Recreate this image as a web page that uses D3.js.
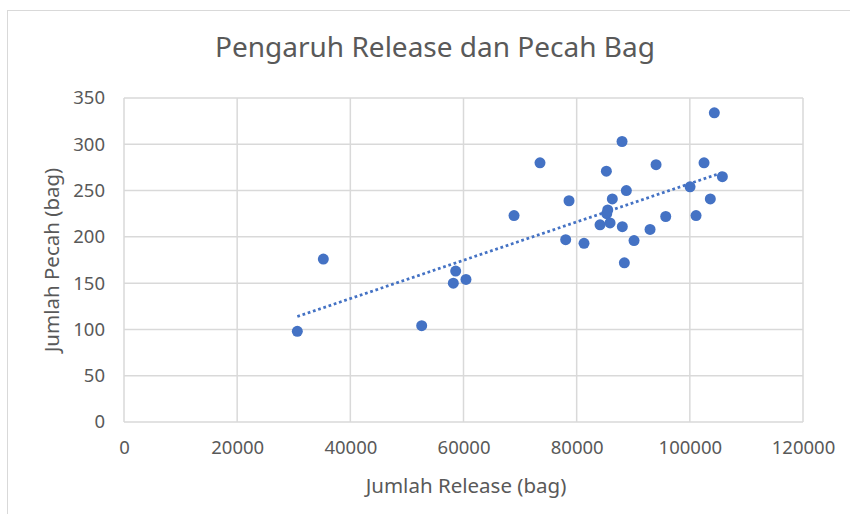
<!DOCTYPE html>
<html><head><meta charset="utf-8">
<script src="https://cdn.jsdelivr.net/npm/d3@7"></script>
<style>
html,body{margin:0;padding:0;background:#fff;}
svg{display:block;font-family:"Noto Sans","Open Sans",sans-serif;}
</style></head>
<body>
<svg id="chart" width="850" height="514"></svg>
<script>
// Data
const releaseBag = [30630, 35230, 52610, 58200, 58620, 60440, 68930, 73520, 78060, 78650,
  81300, 84130, 85310, 85490, 85900, 85250, 86300, 88020, 88070, 88430,
  88780, 90140, 92970, 94030, 95740, 100040, 101100, 102510, 103620, 104330, 105750];
const pecahBag = [98, 176, 104, 150, 163, 154, 223, 280, 197, 239,
  193, 213, 225, 229, 215, 271, 241, 303, 211, 172,
  250, 196, 208, 278, 222, 254, 223, 280, 241, 334, 265];
const xTicks = [0, 20000, 40000, 60000, 80000, 100000, 120000];
const yTicks = [0, 50, 100, 150, 200, 250, 300, 350];
const titleText = "Pengaruh Release dan Pecah Bag";
const xTitle = "Jumlah Release (bag)";
const yTitle = "Jumlah Pecah (bag)";

(function () {
const points = releaseBag.map((r, i) => ({x: r, y: pecahBag[i]}));

const svg = d3.select("#chart");
const pL = 124, pR = 803, pT = 98, pB = 422;
const x = d3.scaleLinear().domain([0, 120000]).range([pL, pR]);
const y = d3.scaleLinear().domain([0, 350]).range([pB, pT]);

const textCol = "#595959", gridCol = "#D9D9D9", blue = "#4472C4";

// chart outer border
svg.append("rect").attr("x", 7.5).attr("y", 10.5).attr("width", 900).attr("height", 600)
  .attr("fill", "none").attr("stroke", gridCol).attr("stroke-width", 1);

// title
svg.append("text").attr("x", 435).attr("y", 57).attr("text-anchor", "middle")
  .attr("font-size", 28).attr("fill", textCol).text(titleText);

// gridlines
svg.append("g").selectAll("line").data(yTicks).join("line")
  .attr("x1", pL).attr("x2", pR).attr("y1", d => y(d)).attr("y2", d => y(d))
  .attr("stroke", gridCol).attr("stroke-width", 1.5);
svg.append("g").selectAll("line").data(xTicks).join("line")
  .attr("y1", pT).attr("y2", pB).attr("x1", d => x(d)).attr("x2", d => x(d))
  .attr("stroke", gridCol).attr("stroke-width", 1.5);

// axes (labels only)
const xAxis = d3.axisBottom(x).tickValues(xTicks).tickSize(0).tickPadding(19).tickFormat(d3.format("d"));
const gx = svg.append("g").attr("transform", `translate(0,${pB})`).call(xAxis);
gx.select(".domain").remove();
gx.selectAll("text").attr("fill", textCol).attr("font-size", 18.5).attr("font-family", "Noto Sans").attr("dy", "0.71em");

const yAxis = d3.axisLeft(y).tickValues(yTicks).tickSize(0).tickPadding(19).tickFormat(d3.format("d"));
const gy = svg.append("g").attr("transform", `translate(${pL},0)`).call(yAxis);
gy.select(".domain").remove();
gy.selectAll("text").attr("fill", textCol).attr("font-size", 18.5).attr("font-family", "Noto Sans");

// axis titles
svg.append("text").attr("x", 466).attr("y", 493).attr("text-anchor", "middle")
  .attr("font-size", 20.5).attr("fill", textCol).text(xTitle);
svg.append("text").attr("transform", "translate(59,260) rotate(-90)").attr("text-anchor", "middle")
  .attr("font-size", 20.5).attr("fill", textCol).text(yTitle);

// linear trendline (least squares)
const mx = d3.mean(points, d => d.x), my = d3.mean(points, d => d.y);
const slope = d3.sum(points, d => (d.x - mx) * (d.y - my)) / d3.sum(points, d => (d.x - mx) ** 2);
const icpt = my - slope * mx;
const [xmin, xmax] = d3.extent(points, d => d.x);
svg.append("line")
  .attr("x1", x(xmin)).attr("y1", y(icpt + slope * xmin))
  .attr("x2", x(xmax)).attr("y2", y(icpt + slope * xmax))
  .attr("stroke", blue).attr("stroke-width", 2.75).attr("stroke-dasharray", "2.75 2.75");

// points
svg.append("g").selectAll("circle").data(points).join("circle")
  .attr("cx", d => x(d.x)).attr("cy", d => y(d.y)).attr("r", 5.5).attr("fill", blue);
})();
</script>
</body></html>
